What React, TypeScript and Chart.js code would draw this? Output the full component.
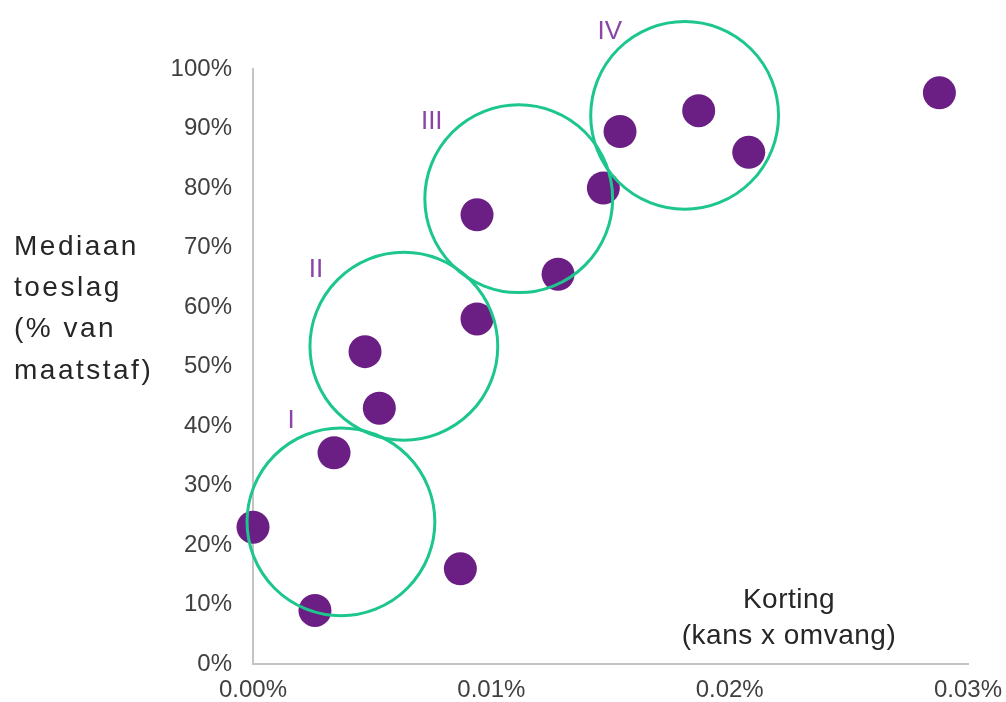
import React, { useEffect, useRef } from "react";
import { Chart, registerables } from "chart.js";

Chart.register(...registerables);

// Scatter data: x = korting (%), y = mediaan toeslag (%)
const xValues = [0.0, 0.0026, 0.0034, 0.0047, 0.0053, 0.0087, 0.0094, 0.0094, 0.0128, 0.0147, 0.0154, 0.0187, 0.0208, 0.0288];
const yValues = [23, 9, 35.5, 52.5, 43, 16, 58, 75.5, 65.5, 80, 89.5, 93, 86, 96];

// Cluster circles (centres in data units, radius in x-axis units)
const clusterNames = ["I", "II", "III", "IV"];
const clusterX = [0.00369, 0.00633, 0.01115, 0.01811];
const clusterY = [23.9, 53.4, 78.2, 92.2];
const clusterRadiusX = 0.00394;
const clusterLabelX = [0.0016, 0.00264, 0.0075, 0.01497];
const clusterLabelY = [40.9, 66.2, 91.2, 106.3];

const yTitleLines = ["Mediaan", "toeslag", "(% van", "maatstaf)"];
const xTitleLines = ["Korting", "(kans x omvang)"];

const FONT = "'Liberation Sans', Arial, sans-serif";

const overlayPlugin = {
  id: "overlay",
  afterDatasetsDraw(chart: any) {
    const { ctx, scales } = chart;
    const xs = scales.x;
    const ys = scales.y;
    ctx.save();
    // circles
    ctx.strokeStyle = "#1cc68c";
    ctx.lineWidth = 3;
    clusterX.forEach((cx, i) => {
      const px = xs.getPixelForValue(cx);
      const py = ys.getPixelForValue(clusterY[i]);
      const r = xs.getPixelForValue(cx + clusterRadiusX) - px;
      ctx.beginPath();
      ctx.arc(px, py, r, 0, Math.PI * 2);
      ctx.stroke();
    });
    // labels
    ctx.fillStyle = "#8a45a6";
    ctx.font = `26px ${FONT}`;
    ctx.textAlign = "center";
    ctx.textBaseline = "middle";
    clusterNames.forEach((name, i) => {
      ctx.fillText(name, xs.getPixelForValue(clusterLabelX[i]), ys.getPixelForValue(clusterLabelY[i]));
    });
    ctx.restore();
  },
  afterDraw(chart: any) {
    const { ctx } = chart;
    ctx.save();
    ctx.fillStyle = "#262626";
    ctx.textBaseline = "middle";
    ctx.font = `28px ${FONT}`;
    (ctx as any).letterSpacing = "2.5px";
    ctx.textAlign = "left";
    yTitleLines.forEach((line, i) => {
      ctx.fillText(line, 14, 247 + i * 41.3);
    });
    (ctx as any).letterSpacing = "0.5px";
    ctx.textAlign = "center";
    xTitleLines.forEach((line, i) => {
      ctx.fillText(line, 789, 600 + i * 36);
    });
    ctx.restore();
  },
};

export default function App() {
  const canvasRef = useRef<HTMLCanvasElement | null>(null);

  useEffect(() => {
    const canvas = canvasRef.current;
    if (!canvas) return;
    const points = xValues.map((x, i) => ({ x, y: yValues[i] }));
    const chart = new Chart(canvas, {
      type: "scatter",
      data: {
        datasets: [
          {
            data: points,
            backgroundColor: "#6b1f84",
            borderWidth: 0,
            pointRadius: 16.5,
            pointHoverRadius: 16.5,
            clip: false,
          } as any,
        ],
      },
      options: {
        responsive: false,
        animation: false,
        events: [],
        layout: { padding: { left: 0, top: 69, right: 38, bottom: 0 } },
        plugins: {
          legend: { display: false },
          tooltip: { enabled: false },
        },
        scales: {
          x: {
            type: "linear",
            min: 0,
            max: 0.03,
            grid: { display: false },
            border: { display: true, color: "#c4c4c4", width: 2 },
            ticks: {
              stepSize: 0.01,
              padding: 4,
              color: "#404040",
              font: { family: FONT, size: 24 },
              callback: (v: any) => Number(v).toFixed(2) + "%",
            },
            afterFit: (scale: any) => {
              scale.height = 38;
              scale.paddingLeft = 0;
              scale.paddingRight = 0;
            },
          },
          y: {
            type: "linear",
            min: 0,
            max: 100,
            grid: { display: false },
            border: { display: true, color: "#c4c4c4", width: 2 },
            ticks: {
              stepSize: 10,
              padding: 13,
              color: "#404040",
              font: { family: FONT, size: 24 },
              callback: (v: any) => Math.round(Number(v)) + "%",
            },
            afterFit: (scale: any) => {
              scale.width = 253;
              scale.paddingTop = 0;
              scale.paddingBottom = 0;
            },
          },
        },
      },
      plugins: [overlayPlugin],
    });
    return () => chart.destroy();
  }, []);

  return (
    <div style={{ position: "absolute", left: 0, top: 0, width: 1006, height: 702, background: "#fff" }}>
      <canvas ref={canvasRef} width={1006} height={702} style={{ display: "block" }} />
    </div>
  );
}
